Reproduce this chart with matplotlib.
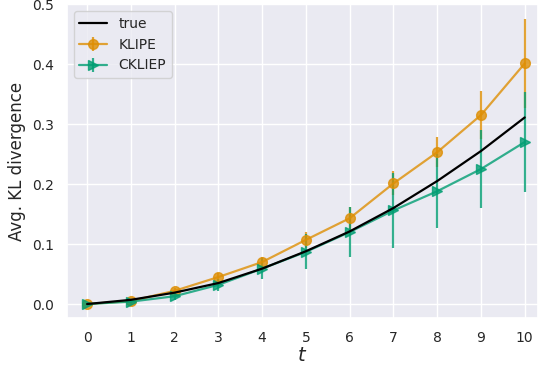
import numpy as np
import matplotlib
matplotlib.use('Agg')
import matplotlib.pyplot as plt
import seaborn as sns

t = [0, 1, 2, 3, 4, 5, 6, 7, 8, 9, 10]
true_kl = [0.0, 0.007, 0.019, 0.035, 0.059, 0.088, 0.121, 0.16, 0.205, 0.255, 0.311]
klipe = [0.0, 0.005, 0.022, 0.045, 0.07, 0.107, 0.143, 0.201, 0.253, 0.315, 0.401]
klipe_err = [0.002, 0.003, 0.004, 0.006, 0.008, 0.013, 0.018, 0.02, 0.025, 0.04, 0.074]
ckliep = [0.0, 0.004, 0.013, 0.032, 0.059, 0.087, 0.12, 0.156, 0.188, 0.225, 0.27]
ckliep_err = [0.002, 0.004, 0.006, 0.01, 0.018, 0.029, 0.041, 0.062, 0.062, 0.065, 0.083]

sns.set_theme(style='darkgrid')
pal = sns.color_palette('colorblind')

fig = plt.figure(figsize=(5.4, 3.7), dpi=100)
ax = fig.add_axes([0.124, 0.141, 0.872, 0.848])

ax.plot(t, true_kl, color='black', lw=1.6, label='true', zorder=4)
ax.errorbar(t, klipe, yerr=klipe_err, color=pal[1], marker='o', ms=7, lw=1.6,
            elinewidth=1.6, alpha=0.8, label='KLIPE', zorder=3)
ax.errorbar(t, ckliep, yerr=ckliep_err, color=pal[2], marker='>', ms=7, lw=1.6,
            elinewidth=1.6, alpha=0.8, label='CKLIEP', zorder=3)

ax.set_xlim(-0.46, 10.3)
ax.set_ylim(-0.023, 0.5)
ax.set_xticks(t)
ax.set_yticks([0.0, 0.1, 0.2, 0.3, 0.4, 0.5])
ax.tick_params(labelsize=10)
ax.set_xlabel('$t$', fontsize=14, labelpad=1)
ax.set_ylabel('Avg. KL divergence', fontsize=12)
ax.legend(loc='upper left', fontsize=10)

fig.savefig('out.png')
